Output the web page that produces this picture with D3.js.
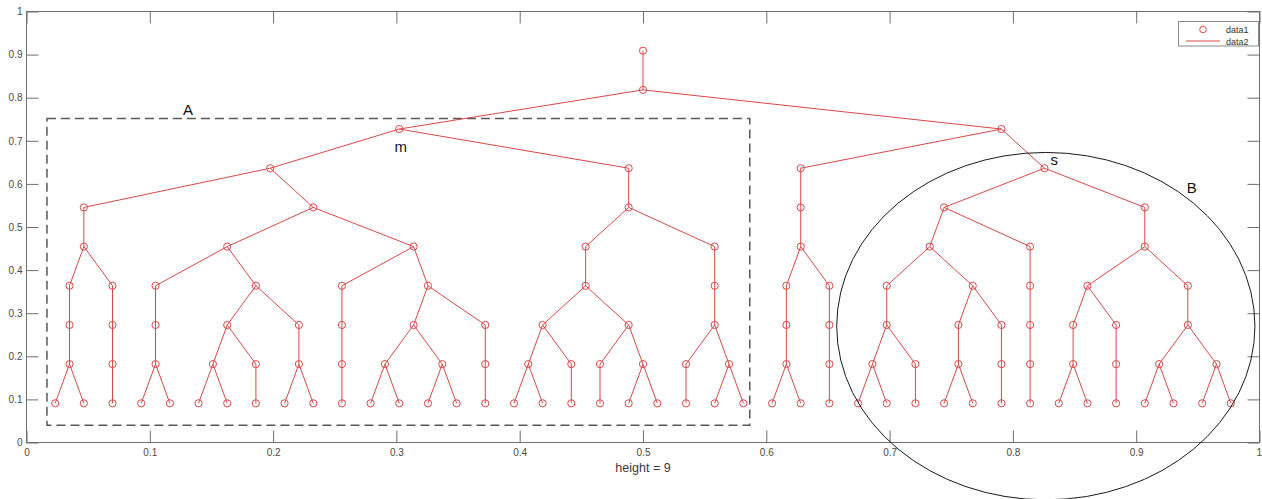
<!DOCTYPE html>
<html>
<head>
<meta charset="utf-8">
<script src="https://cdn.jsdelivr.net/npm/d3@7"></script>
<style>
  body { margin: 0; background: #fff; }
  svg { display: block; font-family: "Liberation Sans", Arial, sans-serif; }
  .axis path, .axis line { stroke: #6f6f6f; }
  .axis text { fill: #4a4a4a; font-size: 10px; }
</style>
</head>
<body>
<div id="chart"></div>
<script>
// tree data: a leaf is [], any other node is the list of its children (left to right)
const subtreeA = [
  [
    [ [ [[[[],[]]]], [[[[]]]] ] ],
    [
      [ [[[[],[]]]], [ [[[],[]],[[]]], [[[],[]]] ] ],
      [ [[[[]]]], [ [[[],[]],[[],[]]], [[[]]] ] ]
    ]
  ],
  [
    [
      [ [ [[[],[]],[[]]], [[[]],[[],[]]] ] ],
      [ [ [[[]],[[],[]]] ] ]
    ]
  ]
];
const subtreeB = [
  [ [ [ [[[[],[]]]], [[[[]]]] ] ] ],
  [
    [
      [ [ [[[],[]],[[]]] ], [ [[[],[]]], [[[]]] ] ],
      [[[[[]]]]]
    ],
    [
      [ [ [[[],[]]], [[[]]] ], [ [[[],[]],[[],[]]] ] ]
    ]
  ]
];
const treeData = [ [ subtreeA, subtreeB ] ];

const xTicks = [0, 0.1, 0.2, 0.3, 0.4, 0.5, 0.6, 0.7, 0.8, 0.9, 1];
const yTicks = [0, 0.1, 0.2, 0.3, 0.4, 0.5, 0.6, 0.7, 0.8, 0.9, 1];
const legendLabels = ["data1", "data2"];

const width = 1262, height = 499;
const red = "#d94848";

const x = d3.scaleLinear().domain([0, 1]).range([26.5, 1259.5]);
const y = d3.scaleLinear().domain([0, 1]).range([442.5, 11.5]);

// treeplot style layout
const root = d3.hierarchy(treeData, d => d);
const leaves = root.leaves();
const nLeaves = leaves.length;
const treeHeight = root.height;
leaves.forEach((d, i) => d.px = (i + 1) / (nLeaves + 1));
root.eachAfter(d => {
  if (d.children) d.px = d3.mean(d.leaves(), l => l.px);
  d.py = (treeHeight - d.depth + 1) / (treeHeight + 2);
});

const svg = d3.select("#chart").append("svg")
  .attr("width", width)
  .attr("height", height);

// axes box
svg.append("rect")
  .attr("x", x(0)).attr("y", y(1))
  .attr("width", x(1) - x(0)).attr("height", y(0) - y(1))
  .attr("fill", "none").attr("stroke", "#6f6f6f");

svg.append("g").attr("class", "axis")
  .attr("transform", `translate(0,${y(0)})`)
  .call(d3.axisBottom(x).tickValues(xTicks).tickFormat(d3.format("~g"))
    .tickSizeInner(-12).tickSizeOuter(0).tickPadding(6))
  .call(g => g.select(".domain").remove())
  .call(g => g.selectAll(".tick text").filter(d => d === 1).attr("text-anchor", "end").attr("dx", 2));

svg.append("g").attr("class", "axis")
  .attr("transform", `translate(0,${y(1)})`)
  .call(d3.axisTop(x).tickValues(xTicks).tickFormat("")
    .tickSizeInner(-12).tickSizeOuter(0))
  .call(g => g.select(".domain").remove());

svg.append("g").attr("class", "axis")
  .attr("transform", `translate(${x(0)},0)`)
  .call(d3.axisLeft(y).tickValues(yTicks).tickFormat(d3.format("~g"))
    .tickSizeInner(-12).tickSizeOuter(0).tickPadding(4))
  .call(g => g.select(".domain").remove());

svg.append("g").attr("class", "axis")
  .attr("transform", `translate(${x(1)},0)`)
  .call(d3.axisRight(y).tickValues(yTicks).tickFormat("")
    .tickSizeInner(-12).tickSizeOuter(0))
  .call(g => g.select(".domain").remove());

svg.append("text")
  .attr("x", x(0.5)).attr("y", 472)
  .attr("text-anchor", "middle")
  .attr("font-size", 12.5).attr("fill", "#3a3a3a")
  .text(`height = ${treeHeight}`);

// annotation: dashed box A
svg.append("rect")
  .attr("x", x(0.0166)).attr("y", y(0.752))
  .attr("width", x(0.5866) - x(0.0166)).attr("height", y(0.04) - y(0.752))
  .attr("fill", "none").attr("stroke", "#585858")
  .attr("stroke-width", 1.5).attr("stroke-dasharray", "9,5");

// tree edges and nodes
svg.append("g")
  .selectAll("line")
  .data(root.links())
  .join("line")
  .attr("x1", d => x(d.source.px)).attr("y1", d => y(d.source.py))
  .attr("x2", d => x(d.target.px)).attr("y2", d => y(d.target.py))
  .attr("stroke", red).attr("stroke-width", 1);

svg.append("g")
  .selectAll("circle")
  .data(root.descendants())
  .join("circle")
  .attr("cx", d => x(d.px)).attr("cy", d => y(d.py))
  .attr("r", 3.6)
  .attr("fill", "none").attr("stroke", red).attr("stroke-width", 1);

// annotation: ellipse B
svg.append("ellipse")
  .attr("cx", x(0.8267)).attr("cy", y(0.27))
  .attr("rx", x(0.1696) - x(0)).attr("ry", y(0) - y(0.403))
  .attr("fill", "none").attr("stroke", "#1a1a1a").attr("stroke-width", 1);

const labels = [
  { t: "A", px: 0.131, py: 0.76 },
  { t: "m", px: 0.3035, py: 0.675 },
  { t: "s", px: 0.8335, py: 0.645 },
  { t: "B", px: 0.945, py: 0.58 }
];
svg.append("g")
  .selectAll("text")
  .data(labels)
  .join("text")
  .attr("x", d => x(d.px)).attr("y", d => y(d.py))
  .attr("text-anchor", "middle")
  .attr("font-size", 15).attr("fill", "#111")
  .text(d => d.t);

// legend
const lg = svg.append("g");
lg.append("rect")
  .attr("x", 1178.5).attr("y", 21.5).attr("width", 80).attr("height", 24.5)
  .attr("fill", "#fff").attr("stroke", "#8a8a8a");
lg.append("circle")
  .attr("cx", 1203).attr("cy", 29.5).attr("r", 3.3)
  .attr("fill", "none").attr("stroke", red);
lg.append("line")
  .attr("x1", 1186).attr("x2", 1220).attr("y1", 41).attr("y2", 41)
  .attr("stroke", red).attr("stroke-width", 1.2);
lg.selectAll("text")
  .data(legendLabels)
  .join("text")
  .attr("x", 1226).attr("y", (d, i) => 33 + i * 11.5)
  .attr("font-size", 9).attr("fill", "#333")
  .text(d => d);
</script>
</body>
</html>
